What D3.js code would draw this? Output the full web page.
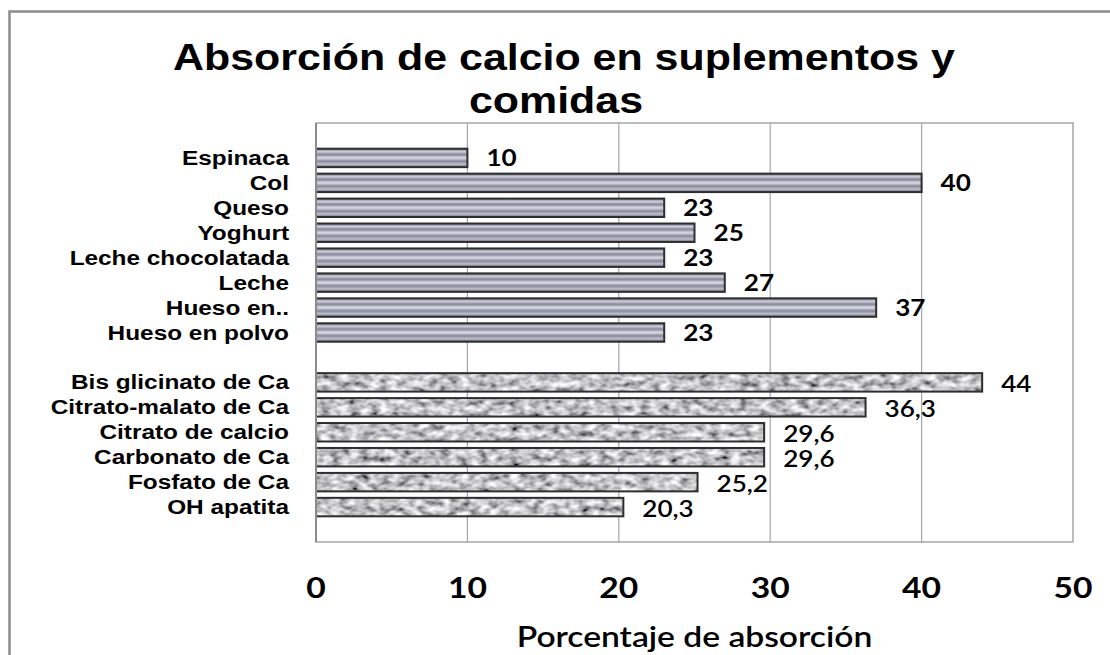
<!DOCTYPE html>
<html>
<head>
<meta charset="utf-8">
<script src="https://cdn.jsdelivr.net/npm/d3@7"></script>
<style>
  html, body { margin: 0; padding: 0; background: #ffffff; }
  svg { display: block; }
</style>
</head>
<body>
<svg id="chart" width="1110" height="655"></svg>
<script>
// Food sources (top group) and supplements (bottom group)
const foodNames = ["Espinaca", "Col", "Queso", "Yoghurt", "Leche chocolatada", "Leche", "Hueso en..", "Hueso en polvo"];
const foodValues = [10, 40, 23, 25, 23, 27, 37, 23];
const suppNames = ["Bis glicinato de Ca", "Citrato-malato de Ca", "Citrato de calcio", "Carbonato de Ca", "Fosfato de Ca", "OH apatita"];
const suppValues = [44, 36.3, 29.6, 29.6, 25.2, 20.3];
const xTicks = [0, 10, 20, 30, 40, 50];
const titleLines = ["Absorción de calcio en suplementos y", "comidas"];
const xAxisTitle = "Porcentaje de absorción";

const svg = d3.select("#chart");
const plot = { left: 316, right: 1073, top: 123, bottom: 542 };

const spacer = "\u00a0";
const rows = [...foodNames, spacer, ...suppNames];

const x = d3.scaleLinear().domain([0, 50]).range([plot.left, plot.right]);
const y = d3.scaleBand().domain(rows).range([plot.top, plot.bottom])
  .paddingInner(0.26).paddingOuter(1.03);

const defs = svg.append("defs");

// Metallic striped fill for the food bars
const grad = defs.append("linearGradient").attr("id", "metal")
  .attr("x1", 0).attr("y1", 0).attr("x2", 0).attr("y2", 1);
[[0, "#676a7e"], [0.16, "#cdcfd8"], [0.32, "#85889c"], [0.5, "#dcdde4"],
 [0.68, "#85889c"], [0.84, "#bfc1cc"], [1, "#65687c"]].forEach(([o, c]) =>
  grad.append("stop").attr("offset", o).attr("stop-color", c));

// Granite texture for the supplement bars
const granite = defs.append("filter").attr("id", "granite")
  .attr("x", 0).attr("y", 0).attr("width", 1).attr("height", 1);
granite.append("feTurbulence").attr("type", "fractalNoise")
  .attr("baseFrequency", "0.1 0.16").attr("numOctaves", 2).attr("seed", 11).attr("result", "noise");
granite.append("feColorMatrix").attr("in", "noise").attr("type", "matrix")
  .attr("values", "1.5 0 0 0 -0.2  1.5 0 0 0 -0.2  1.5 0 0 0 -0.18  0 0 0 0 1").attr("result", "grey");
granite.append("feComposite").attr("in", "grey").attr("in2", "SourceGraphic").attr("operator", "in");

// Outer chart frame
svg.append("rect").attr("x", 9.5).attr("y", 11.5).attr("width", 1200).attr("height", 800)
  .attr("fill", "#ffffff").attr("stroke", "#8c8c8c").attr("stroke-width", 2.5);

// Plot area border and vertical gridlines
svg.append("rect").attr("x", plot.left).attr("y", plot.top)
  .attr("width", plot.right - plot.left).attr("height", plot.bottom - plot.top)
  .attr("fill", "none").attr("stroke", "#a6a6a6").attr("stroke-width", 1.5);
svg.append("g").selectAll("line").data(xTicks.slice(1, -1)).join("line")
  .attr("x1", d => x(d)).attr("x2", d => x(d))
  .attr("y1", plot.top).attr("y2", plot.bottom)
  .attr("stroke", "#a6a6a6").attr("stroke-width", 1.2);

// Helper: horizontally stretched text placed at (px, py)
function stretchedText(parent, px, py, str, anchor, sx, style) {
  const g = parent.append("g").attr("transform", `translate(${px},${py})`);
  const t = g.append("text").attr("transform", `scale(${sx},1)`)
    .attr("text-anchor", anchor).text(str);
  Object.entries(style).forEach(([k, v]) => t.style(k, v));
  return t;
}

// Bars
const foods = foodNames.map((n, i) => ({ name: n, value: foodValues[i], kind: "food" }));
const supps = suppNames.map((n, i) => ({ name: n, value: suppValues[i], kind: "supp" }));
const all = [...foods, ...supps];

const barG = svg.append("g");
barG.selectAll("rect.fill").data(all).join("rect").attr("class", "fill")
  .attr("x", x(0)).attr("y", d => y(d.name))
  .attr("width", d => x(d.value) - x(0)).attr("height", y.bandwidth())
  .attr("fill", d => d.kind === "food" ? "url(#metal)" : "#999")
  .attr("filter", d => d.kind === "supp" ? "url(#granite)" : null);
barG.selectAll("rect.edge").data(all).join("rect").attr("class", "edge")
  .attr("x", x(0)).attr("y", d => y(d.name))
  .attr("width", d => x(d.value) - x(0)).attr("height", y.bandwidth())
  .attr("fill", "none").attr("stroke", "#2e2e2e").attr("stroke-width", 2);

// Left axis line
svg.append("line").attr("x1", x(0)).attr("x2", x(0))
  .attr("y1", plot.top).attr("y2", plot.bottom)
  .attr("stroke", "#8a8a8a").attr("stroke-width", 2);

// Category labels
const catStyle = { "font-family": "'Liberation Sans', Arial, sans-serif", "font-weight": "bold", "font-size": "19.5px", "fill": "#000" };
all.forEach(d => {
  stretchedText(svg, 289, y(d.name) + y.bandwidth() / 2 + 7, d.name, "end", 1.25, catStyle);
});

// Value labels
const fmt = v => String(v).replace(".", ",");
all.forEach(d => {
  const isFood = d.kind === "food";
  stretchedText(svg, x(d.value) + 19, y(d.name) + y.bandwidth() / 2 + (isFood ? 8.3 : 9.8), fmt(d.value), "start", 1.16,
    { "font-family": "Lato, 'Open Sans', sans-serif", "font-weight": isFood ? "bold" : "600", "font-size": "22.5px", "fill": "#000" });
});

// X tick labels
xTicks.forEach(t => {
  stretchedText(svg, x(t), 598, String(t), "middle", 1.16,
    { "font-family": "Lato, 'Open Sans', sans-serif", "font-weight": "bold", "font-size": "29px", "fill": "#000" });
});

// X axis title
stretchedText(svg, (plot.left + plot.right) / 2, 647, xAxisTitle, "middle", 1.2,
  { "font-family": "Lato, 'Open Sans', sans-serif", "font-weight": "600", "font-size": "28px", "fill": "#000" });

// Chart title
const titleStyle = { "font-family": "'Liberation Sans', Arial, sans-serif", "font-weight": "bold", "font-size": "37px", "fill": "#000" };
stretchedText(svg, 564, 70, titleLines[0], "middle", 1.16, titleStyle);
stretchedText(svg, 556, 113, titleLines[1], "middle", 1.16, titleStyle);
</script>
</body>
</html>
